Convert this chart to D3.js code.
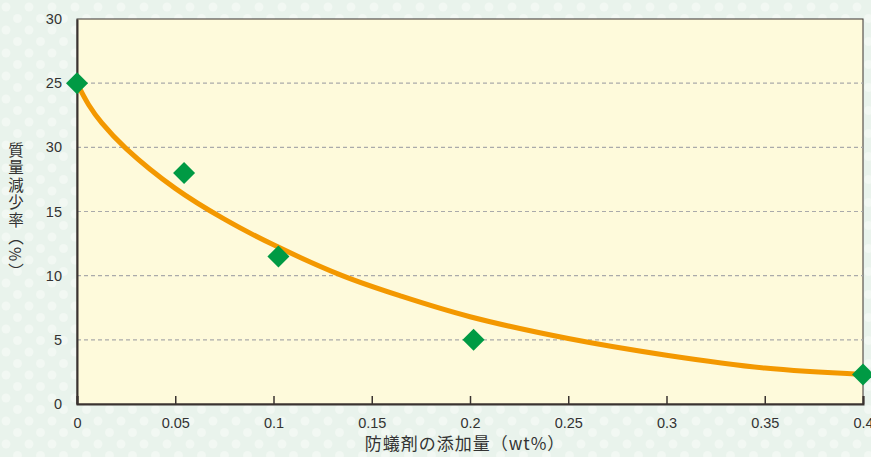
<!DOCTYPE html>
<html><head><meta charset="utf-8">
<script src="https://cdn.jsdelivr.net/npm/d3@7"></script>
<style>html,body{margin:0;padding:0;background:#e9f3ec;}svg{display:block;}</style>
</head><body>
<svg id="chart" width="871" height="457"></svg>
<script>
// Data
const pointX = [0, 0.0545, 0.1025, 0.2018, 0.4];
const pointY = [25, 18.0, 11.5, 5.0, 2.3];
const curveX = [0, 0.006, 0.0126, 0.025, 0.05, 0.075, 0.1, 0.135, 0.165, 0.2, 0.25, 0.3, 0.35, 0.4];
const curveY = [25, 23.3, 21.9, 19.9, 16.8, 14.4, 12.4, 10.0, 8.4, 6.8, 5.1, 3.8, 2.8, 2.3];
const xTicks = [0, 0.05, 0.1, 0.15, 0.2, 0.25, 0.3, 0.35, 0.4];
const xTickLabels = ["0", "0.05", "0.1", "0.15", "0.2", "0.25", "0.3", "0.35", "0.4"];
const yTicks = [0, 5, 10, 15, 20, 25, 30];
const yTickLabels = ["0", "5", "10", "15", "30", "25", "30"];
const xTitle = "防蟻剤の添加量（wt%）";
const yTitle = "質量減少率（%）";

const svg = d3.select("#chart");
const W = 871, H = 457;
const m = {left: 77, right: 8, top: 19, bottom: 53};
const iw = W - m.left - m.right, ih = H - m.top - m.bottom;

// background pattern
const defs = svg.append("defs");
const pat = defs.append("pattern").attr("id", "dots").attr("patternUnits", "userSpaceOnUse")
  .attr("width", 23).attr("height", 23);
pat.append("rect").attr("width", 23).attr("height", 23).attr("fill", "#e9f3ec");
pat.append("circle").attr("cx", 6).attr("cy", 7).attr("r", 4.5).attr("fill", "#f2f8f3");
pat.append("circle").attr("cx", 17.5).attr("cy", 18.5).attr("r", 4.5).attr("fill", "#f2f8f3");
svg.append("rect").attr("width", W).attr("height", H).attr("fill", "url(#dots)");

const x = d3.scaleLinear().domain([0, 0.4]).range([m.left, m.left + iw]);
const y = d3.scaleLinear().domain([0, 30]).range([m.top + ih, m.top]);

// plot area
svg.append("rect").attr("x", x(0)).attr("y", y(30)).attr("width", x(0.4) - x(0)).attr("height", y(0) - y(30))
  .attr("fill", "#fefadb").attr("stroke", "#3a3330").attr("stroke-width", 1);

// grid
svg.append("g").selectAll("line").data(yTicks.filter(d => d > 0 && d < 30)).join("line")
  .attr("x1", x(0)).attr("x2", x(0.4)).attr("y1", d => y(d)).attr("y2", d => y(d))
  .attr("stroke", "#aaa").attr("stroke-width", 1.2).attr("stroke-dasharray", "4,3");

// x axis
const xAxis = d3.axisBottom(x).tickValues(xTicks).tickSize(-8).tickPadding(14)
  .tickFormat((d, i) => xTickLabels[i]);
const gx = svg.append("g").attr("transform", `translate(0,${y(0)})`).call(xAxis);
gx.select(".domain").attr("stroke", "#3a3330").attr("stroke-width", 2);
gx.selectAll(".tick line").attr("stroke", "#3a3330").attr("stroke-width", 1.5);
gx.selectAll(".tick text").attr("fill", "#333").style("font-family", "'Liberation Sans', Arial, sans-serif").style("font-size", "14.5px");

// y axis
const yAxis = d3.axisLeft(y).tickValues(yTicks).tickSize(0).tickPadding(15)
  .tickFormat((d, i) => yTickLabels[i]);
const gy = svg.append("g").attr("transform", `translate(${x(0)},0)`).call(yAxis);
gy.select(".domain").attr("stroke", "#3a3330").attr("stroke-width", 2);
gy.selectAll(".tick text").attr("fill", "#333").style("font-family", "'Liberation Sans', Arial, sans-serif").style("font-size", "14.5px");

// curve
const line = d3.line().x(d => x(d[0])).y(d => y(d[1])).curve(d3.curveCatmullRom.alpha(0.5));
svg.append("path").datum(curveX.map((v, i) => [v, curveY[i]]))
  .attr("d", line).attr("fill", "none").attr("stroke", "#f39800").attr("stroke-width", 5)
  .attr("stroke-linecap", "round");

// diamonds
const sym = d3.symbol().type(d3.symbolSquare).size(242);
svg.append("g").selectAll("path").data(pointX.map((v, i) => [v, pointY[i]])).join("path")
  .attr("d", sym).attr("transform", d => `translate(${x(d[0])},${y(d[1])}) rotate(45)`)
  .attr("fill", "#009a44");

// titles
svg.append("text").attr("x", (x(0) + x(0.4)) / 2 - 5).attr("y", 450).attr("text-anchor", "middle")
  .attr("fill", "#333").style("font-family", "'Noto Sans CJK JP', sans-serif").style("font-size", "17px")
  .style("letter-spacing", "1px")
  .text(xTitle);
svg.append("text").attr("x", 16).attr("y", 142)
  .attr("fill", "#333").style("font-family", "'Noto Sans CJK JP', sans-serif").style("font-size", "15.5px")
  .style("writing-mode", "vertical-rl").style("letter-spacing", "2px")
  .text(yTitle);
</script>
</body></html>
